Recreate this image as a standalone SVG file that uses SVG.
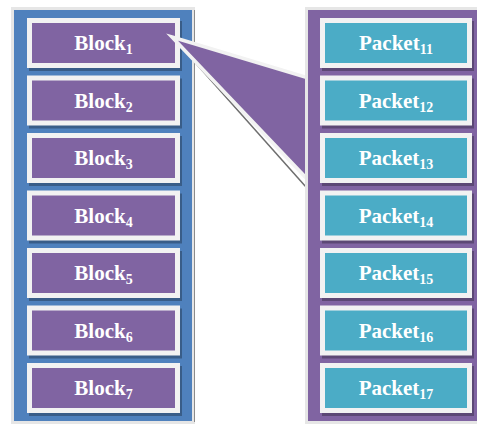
<svg xmlns="http://www.w3.org/2000/svg" width="477" height="425" viewBox="0 0 477 425">
<style>
.frame{fill:none;stroke:#E6E6E6;stroke-width:3}
.sh{fill:#000;opacity:0.28}
.outer{fill:#F2F2F2}
.blk{fill:#8064A2}
.pkt{fill:#4BACC6}
.t{font-family:"Liberation Serif","DejaVu Serif",serif;font-weight:bold;font-size:21px;fill:#FFFFFF;text-anchor:middle}
.s{font-size:14px}
</style>
<rect width="477" height="425" fill="#FFFFFF"/>
<g id="left-panel">
<rect x="12.5" y="8.5" width="181" height="414" class="frame"/>
<rect x="14" y="10" width="178" height="411" fill="#4F81BD"/>
<line x1="194.5" y1="10" x2="194.5" y2="422" stroke="#8C8C8C" stroke-width="1"/>
</g>
<g id="block1"><rect x="29" y="21" width="153" height="50" class="sh"/><rect x="27" y="18" width="153" height="50" class="outer"/><rect x="32" y="23" width="143" height="40" class="blk"/><text x="103.5" y="50" class="t">Block<tspan class="s" dy="4">1</tspan></text></g>
<g id="block2"><rect x="29" y="78.5" width="153" height="50" class="sh"/><rect x="27" y="75.5" width="153" height="50" class="outer"/><rect x="32" y="80.5" width="143" height="40" class="blk"/><text x="103.5" y="107.5" class="t">Block<tspan class="s" dy="4">2</tspan></text></g>
<g id="block3"><rect x="29" y="136" width="153" height="50" class="sh"/><rect x="27" y="133" width="153" height="50" class="outer"/><rect x="32" y="138" width="143" height="40" class="blk"/><text x="103.5" y="165" class="t">Block<tspan class="s" dy="4">3</tspan></text></g>
<g id="block4"><rect x="29" y="193.5" width="153" height="50" class="sh"/><rect x="27" y="190.5" width="153" height="50" class="outer"/><rect x="32" y="195.5" width="143" height="40" class="blk"/><text x="103.5" y="222.5" class="t">Block<tspan class="s" dy="4">4</tspan></text></g>
<g id="block5"><rect x="29" y="251" width="153" height="50" class="sh"/><rect x="27" y="248" width="153" height="50" class="outer"/><rect x="32" y="253" width="143" height="40" class="blk"/><text x="103.5" y="280" class="t">Block<tspan class="s" dy="4">5</tspan></text></g>
<g id="block6"><rect x="29" y="308.5" width="153" height="50" class="sh"/><rect x="27" y="305.5" width="153" height="50" class="outer"/><rect x="32" y="310.5" width="143" height="40" class="blk"/><text x="103.5" y="337.5" class="t">Block<tspan class="s" dy="4">6</tspan></text></g>
<g id="block7"><rect x="29" y="366" width="153" height="50" class="sh"/><rect x="27" y="363" width="153" height="50" class="outer"/><rect x="32" y="368" width="143" height="40" class="blk"/><text x="103.5" y="395" class="t">Block<tspan class="s" dy="4">7</tspan></text></g>
<g id="connectors">
<line x1="176" y1="41" x2="306" y2="187" stroke="#6E6E6E" stroke-width="1.5"/>
<polygon points="172,37 312,79 312,184" fill="#8064A2" stroke="#F2F2F2" stroke-width="3.5" stroke-linejoin="miter"/>
</g>
<g id="right-panel">
<rect x="306.5" y="8.5" width="172" height="414" class="frame"/>
<rect x="308" y="10" width="169" height="411" fill="#8064A2"/>
</g>
<g id="packet11"><rect x="322" y="21" width="152" height="50" class="sh"/><rect x="320" y="18" width="152" height="50" class="outer"/><rect x="325" y="23" width="142" height="40" class="pkt"/><text x="396" y="50" class="t">Packet<tspan class="s" dy="4">11</tspan></text></g>
<g id="packet12"><rect x="322" y="78.5" width="152" height="50" class="sh"/><rect x="320" y="75.5" width="152" height="50" class="outer"/><rect x="325" y="80.5" width="142" height="40" class="pkt"/><text x="396" y="107.5" class="t">Packet<tspan class="s" dy="4">12</tspan></text></g>
<g id="packet13"><rect x="322" y="136" width="152" height="50" class="sh"/><rect x="320" y="133" width="152" height="50" class="outer"/><rect x="325" y="138" width="142" height="40" class="pkt"/><text x="396" y="165" class="t">Packet<tspan class="s" dy="4">13</tspan></text></g>
<g id="packet14"><rect x="322" y="193.5" width="152" height="50" class="sh"/><rect x="320" y="190.5" width="152" height="50" class="outer"/><rect x="325" y="195.5" width="142" height="40" class="pkt"/><text x="396" y="222.5" class="t">Packet<tspan class="s" dy="4">14</tspan></text></g>
<g id="packet15"><rect x="322" y="251" width="152" height="50" class="sh"/><rect x="320" y="248" width="152" height="50" class="outer"/><rect x="325" y="253" width="142" height="40" class="pkt"/><text x="396" y="280" class="t">Packet<tspan class="s" dy="4">15</tspan></text></g>
<g id="packet16"><rect x="322" y="308.5" width="152" height="50" class="sh"/><rect x="320" y="305.5" width="152" height="50" class="outer"/><rect x="325" y="310.5" width="142" height="40" class="pkt"/><text x="396" y="337.5" class="t">Packet<tspan class="s" dy="4">16</tspan></text></g>
<g id="packet17"><rect x="322" y="366" width="152" height="50" class="sh"/><rect x="320" y="363" width="152" height="50" class="outer"/><rect x="325" y="368" width="142" height="40" class="pkt"/><text x="396" y="395" class="t">Packet<tspan class="s" dy="4">17</tspan></text></g>
</svg>
